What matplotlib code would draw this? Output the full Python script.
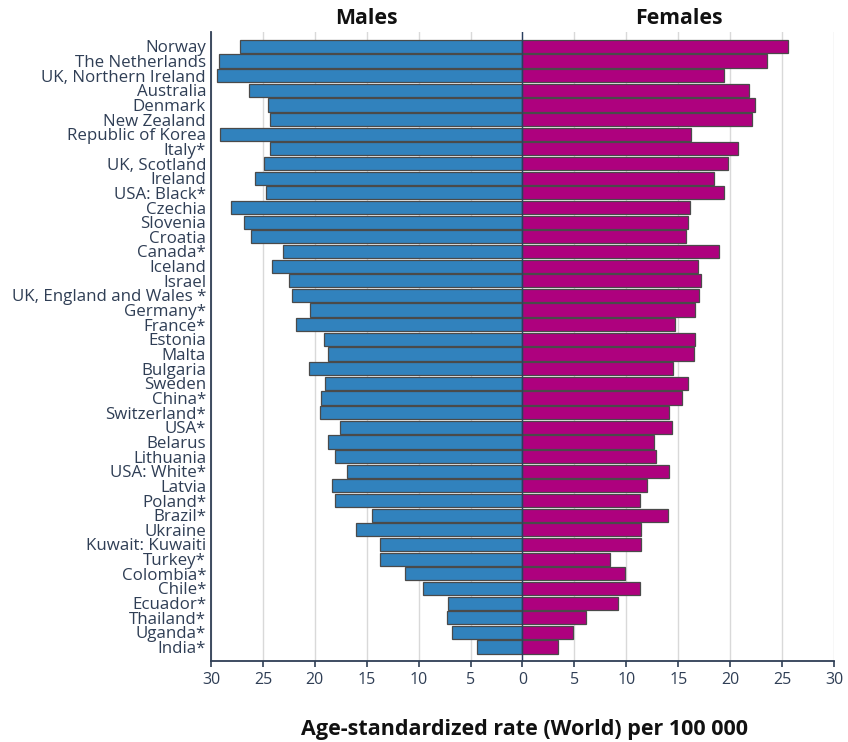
import matplotlib
matplotlib.use("Agg")
import matplotlib.pyplot as plt
from matplotlib.ticker import FuncFormatter
import numpy as np

plt.rcParams['font.family'] = ['Open Sans', 'DejaVu Sans']

countries = [
    "Norway", "The Netherlands", "UK, Northern Ireland", "Australia", "Denmark",
    "New Zealand", "Republic of Korea", "Italy*", "UK, Scotland", "Ireland",
    "USA: Black*", "Czechia", "Slovenia", "Croatia", "Canada*", "Iceland",
    "Israel", "UK, England and Wales *", "Germany*", "France*", "Estonia",
    "Malta", "Bulgaria", "Sweden", "China*", "Switzerland*", "USA*", "Belarus",
    "Lithuania", "USA: White*", "Latvia", "Poland*", "Brazil*", "Ukraine",
    "Kuwait: Kuwaiti", "Turkey*", "Colombia*", "Chile*", "Ecuador*",
    "Thailand*", "Uganda*", "India*",
]
males = [
    27.2, 29.2, 29.4, 26.3, 24.5, 24.3, 29.1, 24.3, 24.9, 25.8,
    24.7, 28.1, 26.8, 26.1, 23.1, 24.1, 22.5, 22.2, 20.5, 21.8,
    19.1, 18.7, 20.6, 19.0, 19.4, 19.5, 17.6, 18.7, 18.1, 16.9,
    18.3, 18.1, 14.5, 16.0, 13.7, 13.7, 11.3, 9.6, 7.15, 7.25,
    6.8, 4.35,
]
females = [
    25.6, 23.5, 19.4, 21.8, 22.4, 22.1, 16.2, 20.8, 19.8, 18.4,
    19.4, 16.1, 15.9, 15.75, 18.9, 16.9, 17.2, 17.0, 16.6, 14.7,
    16.6, 16.5, 14.5, 15.9, 15.4, 14.1, 14.4, 12.7, 12.85, 14.1,
    12.0, 11.3, 14.0, 11.45, 11.45, 8.4, 9.9, 11.3, 9.2, 6.1,
    4.9, 3.4,
]
x_ticks = [-30, -25, -20, -15, -10, -5, 0, 5, 10, 15, 20, 25, 30]

blue = "#3182bd"
magenta = "#ae017e"
text_col = "#2f3e55"
edge_col = "#4a4a4a"

fig = plt.figure(figsize=(8.48, 7.42), dpi=100)
ax = fig.add_axes([0.2488, 0.1092, 0.7347, 0.8471])

y = np.arange(len(countries))
ax.barh(y, [-m for m in males], height=0.9, color=blue, edgecolor=edge_col, linewidth=0.9, zorder=3)
ax.barh(y, females, height=0.9, color=magenta, edgecolor=edge_col, linewidth=0.9, zorder=3)
ax.axvline(0, color="#2a3f5f", linewidth=1.0, zorder=4)

ax.set_ylim(len(countries) - 0.05, -0.95)
ax.set_xlim(-30, 30)
ax.set_xticks(x_ticks)
ax.xaxis.set_major_formatter(FuncFormatter(lambda v, p: f"{abs(int(v))}"))
ax.set_yticks(y)
ax.set_yticklabels(countries)

ax.grid(axis="x", color="#d9d9d9", linewidth=1.0, zorder=0)
ax.set_axisbelow(True)

for s in ["top", "right"]:
    ax.spines[s].set_visible(False)
for s in ["left", "bottom"]:
    ax.spines[s].set_color(text_col)
    ax.spines[s].set_linewidth(1.3)

ax.tick_params(axis="y", length=0, pad=3.5, labelsize=12.2, labelcolor=text_col)
ax.tick_params(axis="x", length=4, width=1.2, color=text_col, pad=4, labelsize=11.5, labelcolor=text_col)

# column headers above each half
fig.text(0.4325, 0.9757, "Males", ha="center", va="center", fontsize=15.3, fontweight="bold", color="#111111")
fig.text(0.8010, 0.9757, "Females", ha="center", va="center", fontsize=15.3, fontweight="bold", color="#111111")

fig.text(0.619, 0.0175, "Age-standardized rate (World) per 100 000", ha="center", va="center",
         fontsize=15.5, fontweight="bold", color="#111111")

fig.savefig("out.png", dpi=100)
